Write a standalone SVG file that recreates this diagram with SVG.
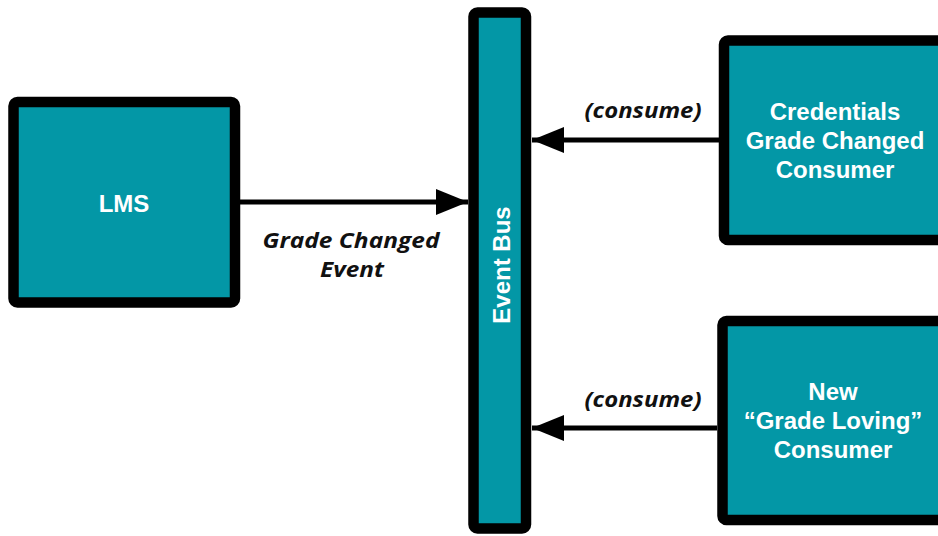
<svg xmlns="http://www.w3.org/2000/svg" width="938" height="536" viewBox="0 0 938 536">
  <style>
    .node { fill: #0397A6; stroke: #000; stroke-width: 10.5; }
    .ntext { font-family: "Liberation Sans", Arial, sans-serif; font-weight: bold; font-size: 24px; fill: #fff; text-anchor: middle; }
    .edge { stroke: #000; stroke-width: 5; fill: none; }
    .elabel { font-family: "Open Sans", "DejaVu Sans", sans-serif; font-weight: bold; font-style: italic; font-size: 21.5px; fill: #111; text-anchor: middle; }
  </style>
  <defs>
    <marker id="arrow" markerUnits="userSpaceOnUse" markerWidth="32" markerHeight="26" refX="32" refY="13" orient="auto">
      <path d="M0,0 L32,13 L0,26 Z" fill="#000"/>
    </marker>
  </defs>
  <rect width="938" height="536" fill="#fff"/>

  <g id="connectors">
    <line class="edge" x1="240" y1="202" x2="468" y2="202" marker-end="url(#arrow)"/>
    <line class="edge" x1="719" y1="140" x2="532" y2="140" marker-end="url(#arrow)"/>
    <line class="edge" x1="717" y1="428" x2="532" y2="428" marker-end="url(#arrow)"/>
    <text class="elabel" x="351" y="248" textLength="177" lengthAdjust="spacingAndGlyphs">Grade Changed</text>
    <text class="elabel" x="352" y="277" textLength="64" lengthAdjust="spacingAndGlyphs">Event</text>
    <text class="elabel" x="643" y="118" textLength="117" lengthAdjust="spacingAndGlyphs">(consume)</text>
    <text class="elabel" x="643" y="407" textLength="117" lengthAdjust="spacingAndGlyphs">(consume)</text>
  </g>

  <g id="lms">
    <rect class="node" x="13.5" y="102" width="221.5" height="200.5" rx="4"/>
    <text class="ntext" x="124" y="212">LMS</text>
  </g>

  <g id="event-bus">
    <rect class="node" x="473.5" y="12.5" width="52.5" height="516" rx="4"/>
    <text class="ntext" transform="translate(510,265) rotate(-90)" x="0" y="0">Event Bus</text>
  </g>

  <g id="credentials-consumer">
    <rect class="node" x="724" y="40.5" width="230" height="199.5" rx="4"/>
    <text class="ntext" x="835" y="120">Credentials</text>
    <text class="ntext" x="835" y="149">Grade Changed</text>
    <text class="ntext" x="835" y="178">Consumer</text>
  </g>

  <g id="grade-loving-consumer">
    <rect class="node" x="722.5" y="321" width="230" height="199" rx="4"/>
    <text class="ntext" x="833" y="400">New</text>
    <text class="ntext" x="833" y="429">“Grade Loving”</text>
    <text class="ntext" x="833" y="458">Consumer</text>
  </g>
</svg>
